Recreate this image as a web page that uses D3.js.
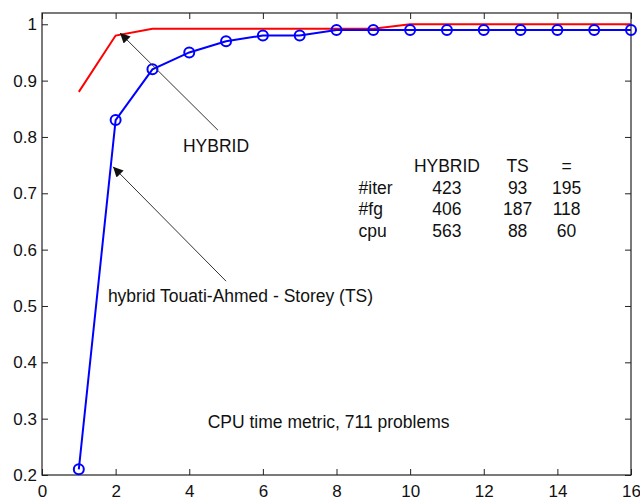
<!DOCTYPE html>
<html>
<head>
<meta charset="utf-8">
<script src="https://cdn.jsdelivr.net/npm/d3@7"></script>
<style>
  html, body { margin: 0; padding: 0; background: #fff; }
  svg text { font-family: "Liberation Sans", Arial, sans-serif; fill: #111; }
</style>
</head>
<body>
<svg id="chart" width="640" height="500"></svg>
<script>
// Performance profile: fraction of problems solved within factor tau of the best CPU time
const tau = [1, 2, 3, 4, 5, 6, 7, 8, 9, 10, 11, 12, 13, 14, 15, 16];
const hybrid = [0.88, 0.98, 0.992, 0.992, 0.992, 0.992, 0.992, 0.992, 0.992, 1, 1, 1, 1, 1, 1, 1];
const touatiStorey = [0.21, 0.83, 0.92, 0.95, 0.97, 0.98, 0.98, 0.99, 0.99, 0.99, 0.99, 0.99, 0.99, 0.99, 0.99, 0.99];

const xTicks = [0, 2, 4, 6, 8, 10, 12, 14, 16];
const yTicks = [0.2, 0.3, 0.4, 0.5, 0.6, 0.7, 0.8, 0.9, 1];

// Summary table (wins per method)
const tableHeader = ["HYBRID", "TS", "="];
const tableRows = ["#iter", "#fg", "cpu"];
const tableValues = [[423, 93, 195], [406, 187, 118], [563, 88, 60]];

const svg = d3.select("#chart");
const m = { left: 42, right: 9, top: 13, bottom: 25 };
const W = 640, H = 500;
const x = d3.scaleLinear().domain([0, 16]).range([m.left, W - m.right]);
const y = d3.scaleLinear().domain([0.2, 1.02]).range([H - m.bottom, m.top]);

const fontSize = 17;
const labelSize = 17.5;
const tickFmt = d => d3.format("~g")(d);

// Axes with inward ticks on all four sides
const gx = svg.append("g").attr("transform", `translate(0,${y.range()[0]})`)
  .call(d3.axisBottom(x).tickValues(xTicks).tickFormat(tickFmt).tickSizeInner(-6).tickSizeOuter(0).tickPadding(10));
const gy = svg.append("g").attr("transform", `translate(${x.range()[0]},0)`)
  .call(d3.axisLeft(y).tickValues(yTicks).tickFormat(tickFmt).tickSizeInner(-6).tickSizeOuter(0).tickPadding(5));
const gt = svg.append("g").attr("transform", `translate(0,${y.range()[1]})`)
  .call(d3.axisTop(x).tickValues(xTicks).tickFormat("").tickSizeInner(-6).tickSizeOuter(0));
const gr = svg.append("g").attr("transform", `translate(${x.range()[1]},0)`)
  .call(d3.axisRight(y).tickValues(yTicks).tickFormat("").tickSizeInner(-6).tickSizeOuter(0));

[gx, gy, gt, gr].forEach(g => {
  g.select(".domain").remove();
  g.selectAll(".tick line").attr("stroke", "#222").attr("stroke-width", 1);
  g.selectAll(".tick text").attr("font-size", fontSize).attr("fill", "#111")
    .style("font-family", '"Liberation Sans", Arial, sans-serif');
});

// Plot box
svg.append("rect")
  .attr("x", x.range()[0]).attr("y", y.range()[1])
  .attr("width", x.range()[1] - x.range()[0])
  .attr("height", y.range()[0] - y.range()[1])
  .attr("fill", "none").attr("stroke", "#222").attr("stroke-width", 1.2);

const line = d3.line().x(d => x(d[0])).y(d => y(d[1]));

// HYBRID curve (red)
svg.append("path")
  .datum(tau.map((t, i) => [t, hybrid[i]]))
  .attr("d", line).attr("fill", "none")
  .attr("stroke", "#ff0000").attr("stroke-width", 2);

// Touati-Ahmed - Storey curve (blue, circle markers)
const tsData = tau.map((t, i) => [t, touatiStorey[i]]);
svg.append("path")
  .datum(tsData)
  .attr("d", line).attr("fill", "none")
  .attr("stroke", "#0000ff").attr("stroke-width", 2);
svg.append("g").selectAll("circle").data(tsData).join("circle")
  .attr("cx", d => x(d[0])).attr("cy", d => y(d[1])).attr("r", 5)
  .attr("fill", "none").attr("stroke", "#0000ff").attr("stroke-width", 2);

// Arrow annotations
const defs = svg.append("defs");
defs.append("marker")
  .attr("id", "head").attr("viewBox", "0 0 10 10")
  .attr("refX", 10).attr("refY", 5)
  .attr("markerWidth", 13).attr("markerHeight", 10)
  .attr("markerUnits", "userSpaceOnUse")
  .attr("orient", "auto")
  .append("path").attr("d", "M0,0 L10,5 L0,10 Z").attr("fill", "#111");

function arrow(from, to) {
  svg.append("line")
    .attr("x1", x(from[0])).attr("y1", y(from[1]))
    .attr("x2", x(to[0])).attr("y2", y(to[1]))
    .attr("stroke", "#333").attr("stroke-width", 1)
    .attr("marker-end", "url(#head)");
}
arrow([4.78, 0.812], [2.12, 0.9845]);
arrow([5.0, 0.544], [1.93, 0.747]);

function label(tx, ty, str, anchor) {
  svg.append("text")
    .attr("x", x(tx)).attr("y", y(ty))
    .attr("font-size", labelSize)
    .attr("text-anchor", anchor || "start")
    .text(str);
}
label(3.83, 0.773, "HYBRID");
label(1.79, 0.507, "hybrid Touati-Ahmed - Storey (TS)");
label(4.5, 0.283, "CPU time metric, 711 problems");

// Summary table
const colX = [11.0, 12.92, 14.25];
const rowLabelX = 8.6;
const headerY = 0.738;
const rowStep = 0.0385;
tableHeader.forEach((h, j) => label(colX[j], headerY, h, "middle"));
tableRows.forEach((r, i) => {
  const ry = headerY - (i + 1) * rowStep;
  label(rowLabelX, ry, r);
  tableValues[i].forEach((v, j) => label(colX[j], ry, String(v), "middle"));
});
</script>
</body>
</html>
